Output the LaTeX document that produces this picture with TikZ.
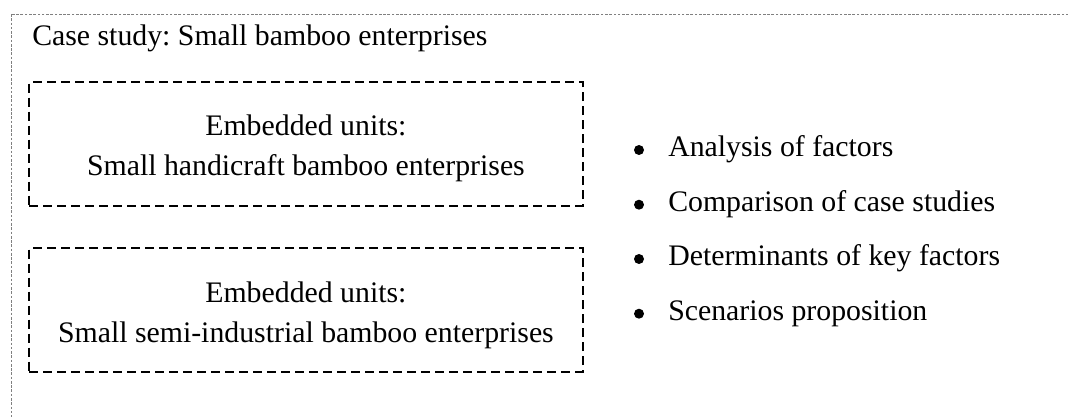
\documentclass[tikz,border=0pt]{standalone}
\usepackage{fontspec}
\setmainfont{Liberation Serif}
\frenchspacing
\begin{document}
\begin{tikzpicture}[x=0.75pt,y=-0.75pt,
  txt/.style={font=\fontsize{22.35}{30}\selectfont, inner sep=0pt},
  unitbox/.style={draw=black, line width=1.5pt, dash pattern=on 6.75pt off 3.75pt,
    minimum width=414.9pt, minimum height=93pt, inner sep=0pt},
  outerbox/.style={draw=black!50, line width=0.7pt, dash pattern=on 2pt off 1.2pt},
  bullet/.style={circle, fill=black, inner sep=0pt, minimum size=7.5pt}]
\useasboundingbox (0,0) rectangle (1068,417);
% frame of the case study, running past the right and bottom edges
\begin{scope}
  \clip (0,0) rectangle (1068,417);
  \draw[outerbox] (11,14) rectangle (1100,450);
\end{scope}
\node[txt, anchor=base west] (title) at (32,46) {Case study: Small bamboo enterprises};
% embedded units
\node[unitbox] (unitA) at (305.9,144) {};
\node[txt, anchor=base] (unitAa) at (305.9,136) {Embedded units:};
\node[txt, anchor=base] (unitAb) at (305.9,176) {Small handicraft bamboo enterprises};
\node[unitbox] (unitB) at (305.9,310) {};
\node[txt, anchor=base] (unitBa) at (305.9,302) {Embedded units:};
\node[txt, anchor=base] (unitBb) at (305.9,342) {Small semi-industrial bamboo enterprises};
% analysis steps
\foreach \y/\t [count=\i] in {157/Analysis of factors, 211.7/Comparison of case studies,
    266/Determinants of key factors, 320.7/Scenarios proposition}{
  \node[bullet] (dot\i) at (639,\y-7) {};
  \node[txt, anchor=base west] (step\i) at (668,\y) {\t};
}
\end{tikzpicture}
\end{document}
